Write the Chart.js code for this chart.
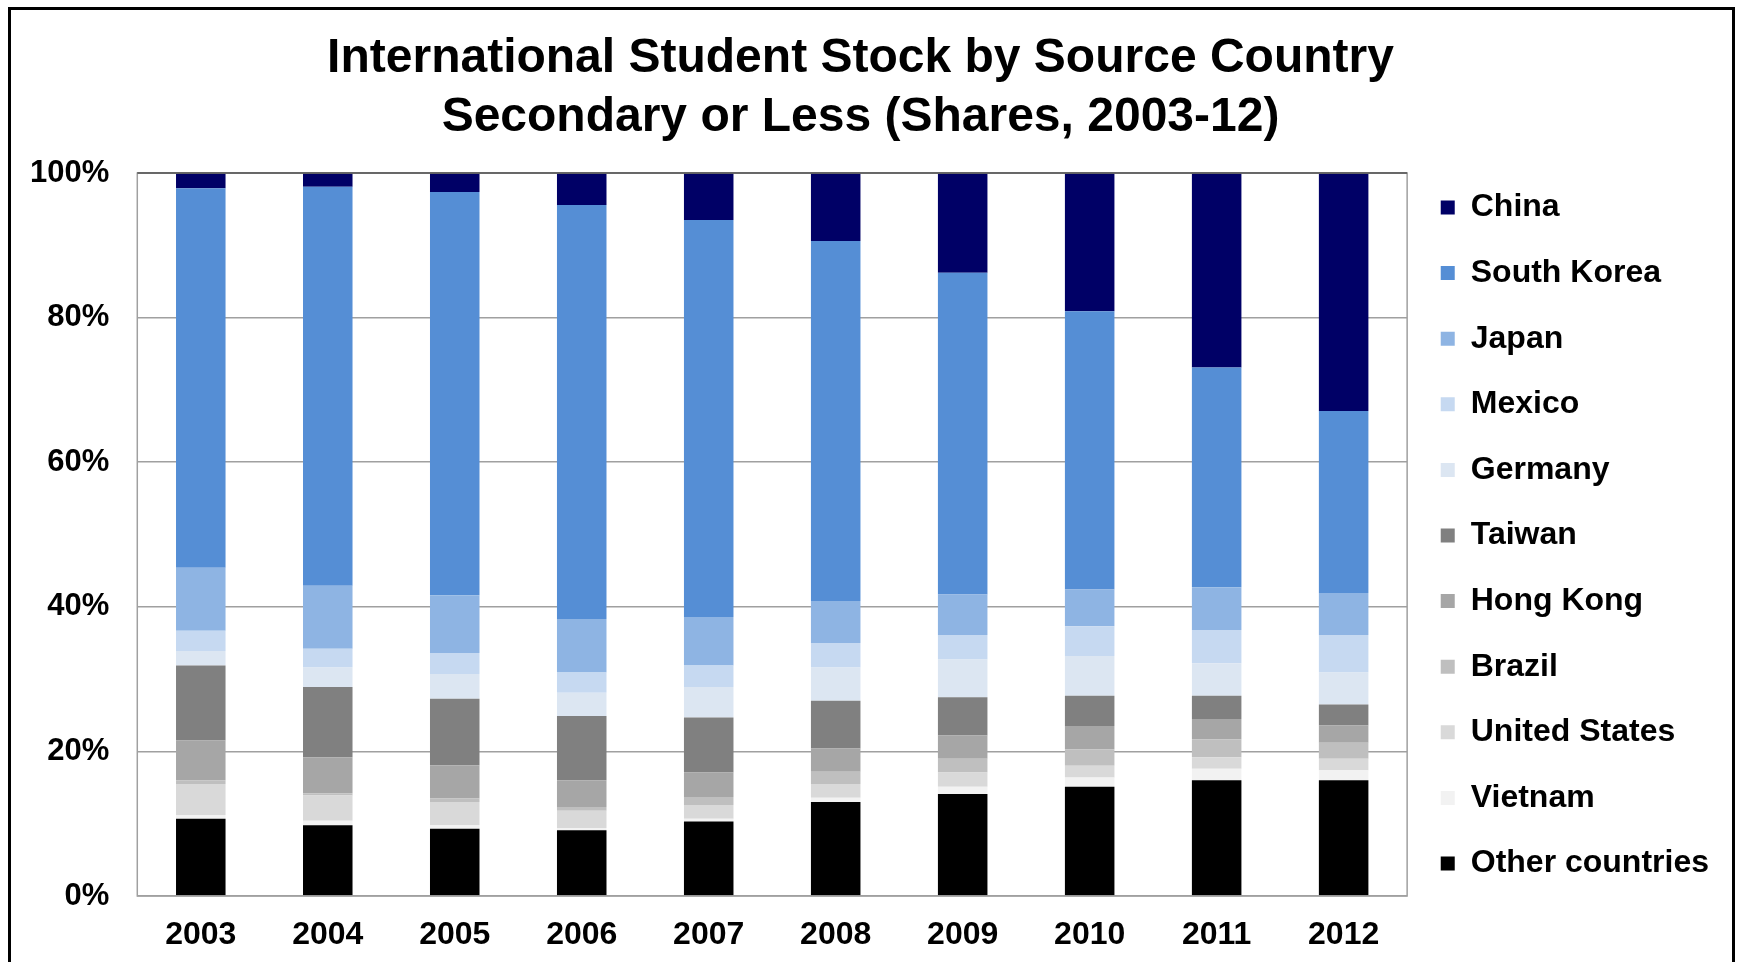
<!DOCTYPE html>
<html lang="en">
<head>
<meta charset="UTF-8">
<title>International Student Stock by Source Country</title>
<style>
    body {
        margin: 0;
        background-color: #fff;
    }
    #wrap {
        position: relative;
        width: 1743px;
        height: 962px;
        overflow: hidden;
    }
    #frame {
        position: absolute;
        left: 8px;
        top: 7px;
        width: 1721px;
        height: 1000px;
        border: 3px solid #000;
        border-bottom: none;
        pointer-events: none;
    }
    canvas {
        position: absolute;
        left: 0;
        top: 0;
    }
</style>
</head>
<body>
<div id="wrap">
    <canvas id="chart" width="1743" height="962"></canvas>
    <div id="frame"></div>
</div>

<script src="https://cdn.jsdelivr.net/npm/chart.js@4"></script>
<script>
// shares in % (bottom segment first)
var years = ["2003", "2004", "2005", "2006", "2007", "2008", "2009", "2010", "2011", "2012"];

var otherCountries = [10.7, 9.8, 9.3, 9.1, 10.3, 13.0, 14.1, 15.1, 16.0, 16.0];
var vietnam        = [0.5, 0.6, 0.5, 0.3, 0.4, 0.6, 1.0, 1.3, 1.6, 1.4];
var unitedStates   = [4.3, 3.5, 3.2, 2.4, 1.9, 1.9, 2.0, 1.6, 1.6, 1.6];
var brazil         = [0.5, 0.3, 0.5, 0.5, 1.1, 1.7, 1.9, 2.3, 2.5, 2.2];
var hongKong       = [5.5, 5.0, 4.6, 3.7, 3.4, 3.2, 3.2, 3.2, 2.8, 2.4];
var taiwan         = [10.4, 9.7, 9.2, 8.9, 7.6, 6.6, 5.3, 4.2, 3.2, 2.9];
var germany        = [2.0, 2.7, 3.4, 3.2, 4.2, 4.6, 5.2, 5.5, 4.5, 4.4];
var mexico         = [2.8, 2.6, 2.9, 2.8, 3.0, 3.4, 3.4, 4.1, 4.6, 5.2];
var japan          = [8.7, 8.7, 8.0, 7.4, 6.7, 5.8, 5.6, 5.1, 5.9, 5.8];
var southKorea     = [52.5, 55.2, 55.8, 57.3, 54.9, 49.8, 44.5, 38.5, 30.4, 25.2];
var china          = [2.1, 1.9, 2.6, 4.4, 6.5, 9.4, 13.8, 19.1, 26.9, 32.9];

var yTicks = [0, 20, 40, 60, 80, 100];

var fontFamily = "Arial, 'Liberation Sans', sans-serif";

function series(label, data, color) {
    return {
        label: label,
        data: data,
        backgroundColor: color,
        borderWidth: 0,
        barPercentage: 0.39,
        categoryPercentage: 1.0
    };
}

// grey box round the plot area, darker line on top
var plotFrame = {
    id: 'plotFrame',
    afterDatasetsDraw: function (chart) {
        var a = chart.chartArea;
        var ctx = chart.ctx;
        ctx.save();
        ctx.lineWidth = 1.5;
        ctx.strokeStyle = '#a0a0a0';
        ctx.strokeRect(a.left, a.top, a.right - a.left, a.bottom - a.top);
        ctx.strokeStyle = '#555';
        ctx.beginPath();
        ctx.moveTo(a.left, a.top);
        ctx.lineTo(a.right, a.top);
        ctx.stroke();
        ctx.restore();
    }
};

var ctx = document.getElementById('chart').getContext('2d');
var chart = new Chart(ctx, {
    type: 'bar',
    data: {
        labels: years,
        datasets: [
            series('Other countries', otherCountries, '#000000'),
            series('Vietnam', vietnam, '#F2F2F2'),
            series('United States', unitedStates, '#D9D9D9'),
            series('Brazil', brazil, '#BFBFBF'),
            series('Hong Kong', hongKong, '#A6A6A6'),
            series('Taiwan', taiwan, '#808080'),
            series('Germany', germany, '#DCE6F2'),
            series('Mexico', mexico, '#C6D9F1'),
            series('Japan', japan, '#8EB4E3'),
            series('South Korea', southKorea, '#558ED5'),
            series('China', china, '#000066')
        ]
    },
    options: {
        responsive: false,
        animation: false,
        devicePixelRatio: 1,
        layout: {
            padding: { left: 2, right: 24, top: 0, bottom: 0 }
        },
        plugins: {
            title: {
                display: true,
                text: ['International Student Stock by Source Country', 'Secondary or Less (Shares, 2003-12)'],
                color: '#000',
                font: { family: fontFamily, size: 48, weight: 'bold', lineHeight: 1.23 },
                padding: { top: 29, bottom: 26 }
            },
            legend: {
                position: 'right',
                reverse: true,
                title: {
                    display: true,
                    text: ' ',
                    font: { size: 10 },
                    padding: { top: 97, bottom: 0 }
                },
                labels: {
                    boxWidth: 14,
                    boxHeight: 14,
                    padding: 33.6,
                    color: '#000',
                    font: { family: fontFamily, size: 32, weight: 'bold' }
                }
            },
            tooltip: { enabled: false }
        },
        scales: {
            x: {
                stacked: true,
                grid: { display: false, drawTicks: false },
                border: { display: false },
                afterFit: function (axis) {
                    axis.height = 66;
                },
                ticks: {
                    color: '#000',
                    padding: 22,
                    font: { family: fontFamily, size: 32, weight: 'bold', lineHeight: 1.1 }
                }
            },
            y: {
                stacked: true,
                min: 0,
                max: 100,
                afterBuildTicks: function (axis) {
                    axis.ticks = yTicks.map(function (v) { return { value: v }; });
                },
                grid: { color: '#a0a0a0', lineWidth: 1.5, drawTicks: false },
                border: { display: false },
                ticks: {
                    color: '#000',
                    padding: 28,
                    font: { family: fontFamily, size: 31, weight: 'bold' },
                    callback: function (v) { return v + '%'; }
                }
            }
        }
    },
    plugins: [plotFrame]
});
</script>
</body>
</html>
